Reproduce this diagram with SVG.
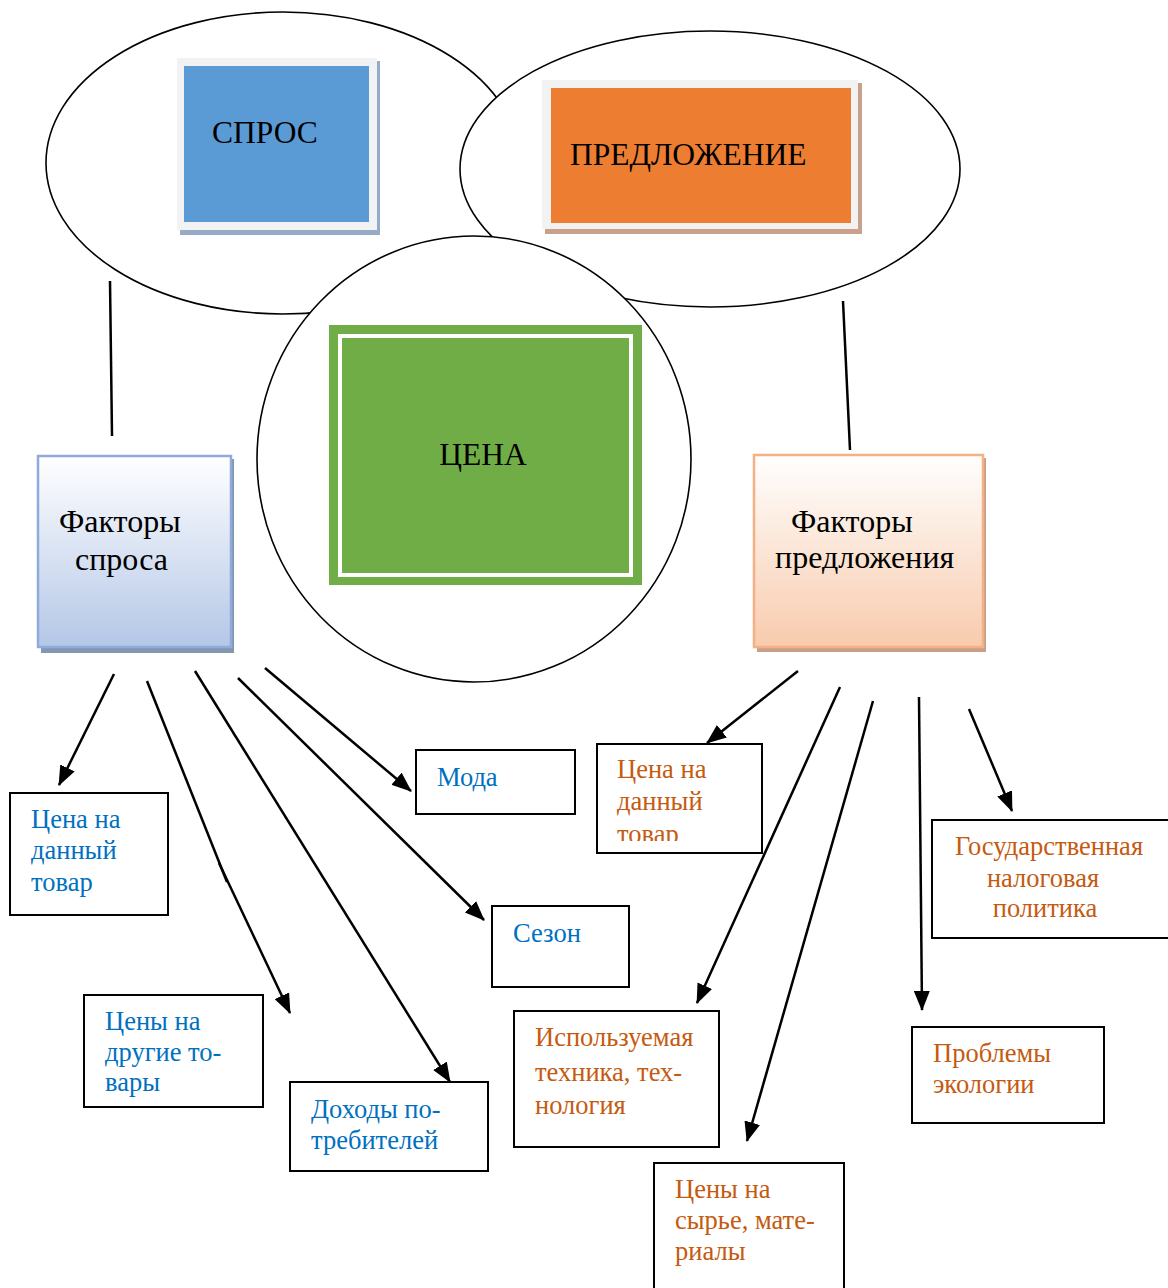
<svg xmlns="http://www.w3.org/2000/svg" width="1168" height="1288" viewBox="0 0 1168 1288">
<defs>
<style>
.ell{fill:#fff;stroke:#000;stroke-width:1.6}
.big{font-family:"Liberation Serif","Times New Roman",serif;font-size:31.5px;fill:#000}
.fac{font-family:"Liberation Serif","Times New Roman",serif;font-size:32px;fill:#000}
.box{fill:#fff;stroke:#000;stroke-width:2}
.bt{font-family:"Liberation Serif","Times New Roman",serif;font-size:26.5px;fill:#0070c0}
.ot{font-family:"Liberation Serif","Times New Roman",serif;font-size:26.5px;fill:#c55a11}
.con{stroke:#000;stroke-width:2.5;fill:none}
.arr{stroke:#000;stroke-width:2.5;fill:none;marker-end:url(#ah)}
</style>
<marker id="ah" viewBox="0 0 20 16" refX="19" refY="8" markerWidth="20" markerHeight="16" markerUnits="userSpaceOnUse" orient="auto">
<path d="M0,0 L20,8 L0,16 Z" fill="#000"/>
</marker>
<linearGradient id="gb" x1="0" y1="0" x2="0" y2="1">
<stop offset="0" stop-color="#ffffff"/>
<stop offset="1" stop-color="#b4c7e7"/>
</linearGradient>
<linearGradient id="go" x1="0" y1="0" x2="0" y2="1">
<stop offset="0" stop-color="#ffffff"/>
<stop offset="1" stop-color="#f8cbad"/>
</linearGradient>
<clipPath id="clipCena2"><rect x="597" y="744" width="166" height="97"/></clipPath>
</defs>

<g id="ellipses">
<ellipse id="ellipse-spros" class="ell" cx="283" cy="163" rx="237" ry="151"/>
<ellipse id="ellipse-predl" class="ell" cx="710" cy="169" rx="250" ry="138"/>
<ellipse id="circle-cena" class="ell" cx="474" cy="459" rx="217" ry="223"/>
</g>

<g id="connectors">
<line class="con" x1="110" y1="281" x2="112" y2="436" stroke-width="1.8"/>
<line class="con" x1="843" y1="301" x2="850" y2="450" stroke-width="1.8"/>
<line class="arr" x1="114" y1="674" x2="59" y2="785"/>
<line class="con" x1="147" y1="681" x2="227" y2="882" stroke-width="2"/>
<line class="arr" x1="219" y1="863" x2="290" y2="1013"/>
<line class="arr" x1="195" y1="671" x2="450" y2="1082"/>
<line class="arr" x1="238" y1="678" x2="484" y2="920"/>
<line class="arr" x1="265" y1="668" x2="411" y2="791"/>
<line class="arr" x1="798" y1="671" x2="707" y2="743"/>
<line class="arr" x1="840" y1="687" x2="697" y2="1003"/>
<line class="arr" x1="873" y1="701" x2="747" y2="1141"/>
<line class="arr" x1="919" y1="697" x2="922" y2="1010"/>
<line class="arr" x1="969" y1="709" x2="1012" y2="811"/>
</g>

<g id="spros">
<rect x="180" y="61" width="200" height="174" fill="#95abc8"/>
<rect x="177" y="58" width="200" height="172" fill="#f2f2f2"/>
<rect x="184" y="66" width="185" height="156" fill="#5b9bd5"/>
<text class="big" x="212" y="143">СПРОС</text>
</g>

<g id="predlozhenie">
<rect x="545" y="83" width="317" height="151" fill="#c9a08a"/>
<rect x="542" y="80" width="316" height="149" fill="#f2f2f2"/>
<rect x="551" y="88" width="300" height="135" fill="#ed7d31"/>
<text class="big" x="570" y="165">ПРЕДЛОЖЕНИЕ</text>
</g>

<g id="cena">
<rect x="329" y="325" width="313" height="260" fill="#70ad47"/>
<rect x="340" y="336" width="291" height="239" fill="none" stroke="#fff" stroke-width="4"/>
<text class="big" x="483" y="465" text-anchor="middle">ЦЕНА</text>
</g>

<g id="faktory-sprosa">
<rect x="41" y="459" width="193" height="194" fill="#8497b0"/>
<rect x="38" y="456" width="193" height="191" fill="url(#gb)" stroke="#8faadc" stroke-width="2.5"/>
<text class="fac" x="59" y="532">Факторы</text>
<text class="fac" x="75" y="570">спроса</text>
</g>

<g id="faktory-predl">
<rect x="757" y="458" width="229" height="194" fill="#c8a08a"/>
<rect x="754" y="455" width="229" height="192" fill="url(#go)" stroke="#f4b183" stroke-width="2.5"/>
<text class="fac" x="791" y="532">Факторы</text>
<text class="fac" x="775" y="568">предложения</text>
</g>

<g id="s-cena">
<rect class="box" x="10" y="793" width="158" height="122"/>
<text class="bt" x="31" y="828">Цена на</text>
<text class="bt" x="31" y="859">данный</text>
<text class="bt" x="31" y="891">товар</text>
</g>

<g id="s-moda">
<rect class="box" x="416" y="750" width="159" height="64"/>
<text class="bt" x="437" y="786">Мода</text>
</g>

<g id="s-sezon">
<rect class="box" x="492" y="906" width="137" height="81"/>
<text class="bt" x="513" y="942">Сезон</text>
</g>

<g id="s-drugie">
<rect class="box" x="84" y="995" width="179" height="112"/>
<text class="bt" x="105" y="1030">Цены на</text>
<text class="bt" x="105" y="1061">другие то-</text>
<text class="bt" x="105" y="1091">вары</text>
</g>

<g id="s-dohody">
<rect class="box" x="290" y="1082" width="198" height="89"/>
<text class="bt" x="311" y="1118">Доходы по-</text>
<text class="bt" x="311" y="1149">требителей</text>
</g>

<g id="p-cena">
<rect class="box" x="597" y="744" width="165" height="109"/>
<g clip-path="url(#clipCena2)">
<text class="ot" x="617" y="778">Цена на</text>
<text class="ot" x="617" y="810">данный</text>
<text class="ot" x="617" y="843">товар</text>
</g>
</g>

<g id="p-gos">
<rect class="box" x="932" y="820" width="240" height="118"/>
<text class="ot" x="1049" y="855" text-anchor="middle">Государственная</text>
<text class="ot" x="1043" y="887" text-anchor="middle">налоговая</text>
<text class="ot" x="1045" y="917" text-anchor="middle">политика</text>
</g>

<g id="p-ekol">
<rect class="box" x="912" y="1027" width="192" height="96"/>
<text class="ot" x="933" y="1062">Проблемы</text>
<text class="ot" x="933" y="1093">экологии</text>
</g>

<g id="p-tech">
<rect class="box" x="514" y="1011" width="205" height="136"/>
<text class="ot" x="535" y="1046">Используемая</text>
<text class="ot" x="535" y="1081">техника, тех-</text>
<text class="ot" x="535" y="1114">нология</text>
</g>

<g id="p-syrie">
<rect class="box" x="654" y="1163" width="190" height="130"/>
<text class="ot" x="675" y="1198">Цены на</text>
<text class="ot" x="675" y="1229">сырье, мате-</text>
<text class="ot" x="675" y="1260">риалы</text>
</g>
</svg>
